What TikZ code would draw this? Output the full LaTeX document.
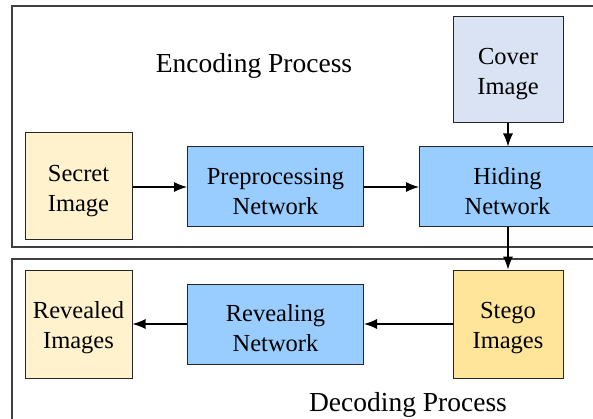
\documentclass[tikz,border=0pt]{standalone}
\usepackage{fontspec}
\setmainfont{Liberation Serif}
\usetikzlibrary{arrows.meta}
\definecolor{secretc}{HTML}{FFF2CC}
\definecolor{coverc}{HTML}{DAE3F3}
\definecolor{netc}{HTML}{99CCFF}
\definecolor{stegoc}{HTML}{FFE599}
\definecolor{framec}{HTML}{404040}
\newcommand{\upstrut}{\rule{0pt}{25pt}}
\tikzset{
  box/.style={draw=black!85, line width=1pt, inner sep=0pt, align=center,
    text=black, font=\rmfamily\fontsize{24.5}{30}\selectfont},
  imgbox/.style={box, minimum width=107pt, minimum height=107pt},
  netbox/.style={box, fill=netc, minimum width=176pt, minimum height=80pt},
  frame/.style={draw=framec, line width=1.3pt},
  arr/.style={-{Latex[length=13pt,width=10pt]}, line width=1.1pt},
  title/.style={font=\rmfamily\fontsize{27.5}{32}\selectfont, inner sep=0pt}
}
\begin{document}
\begin{tikzpicture}[x=1pt,y=-1pt]
\useasboundingbox (0,0) rectangle (593,419);
\begin{scope}
\clip (0,0) rectangle (593,419);
\draw[frame] (12,6) rectangle (640,247);
\draw[frame] (12,259) rectangle (640,460);
\node[title] (enc) at (254,66) {Encoding Process};
\node[title] (dec) at (408,405) {Decoding Process};
\node[imgbox, fill=coverc, minimum width=110pt, minimum height=106pt] (cover) at (508,70) {\upstrut Cover\\Image};
\node[imgbox, fill=secretc] (secret) at (78.5,186.5) {\upstrut Secret\\Image};
\node[netbox] (pre) at (275.5,187) {\upstrut Preprocessing\\Network};
\node[netbox] (hide) at (507.5,187) {\upstrut Hiding\\Network};
\node[imgbox, fill=stegoc, minimum width=110pt, minimum height=108pt] (stego) at (508,324) {\upstrut Stego\\Images};
\node[netbox] (rev) at (275.5,324) {\upstrut Revealing\\Network};
\node[imgbox, fill=secretc, minimum height=108pt] (revd) at (78.5,324) {\upstrut Revealed\\Images};
\draw[arr] (secret.east |- pre.west) -- (pre.west);
\draw[arr] (pre) -- (hide);
\draw[arr] (cover) -- (cover |- hide.north);
\draw[arr] (hide.south -| stego.north) -- (stego.north);
\draw[arr] (stego) -- (rev);
\draw[arr] (rev) -- (revd);
\end{scope}
\end{tikzpicture}
\end{document}
